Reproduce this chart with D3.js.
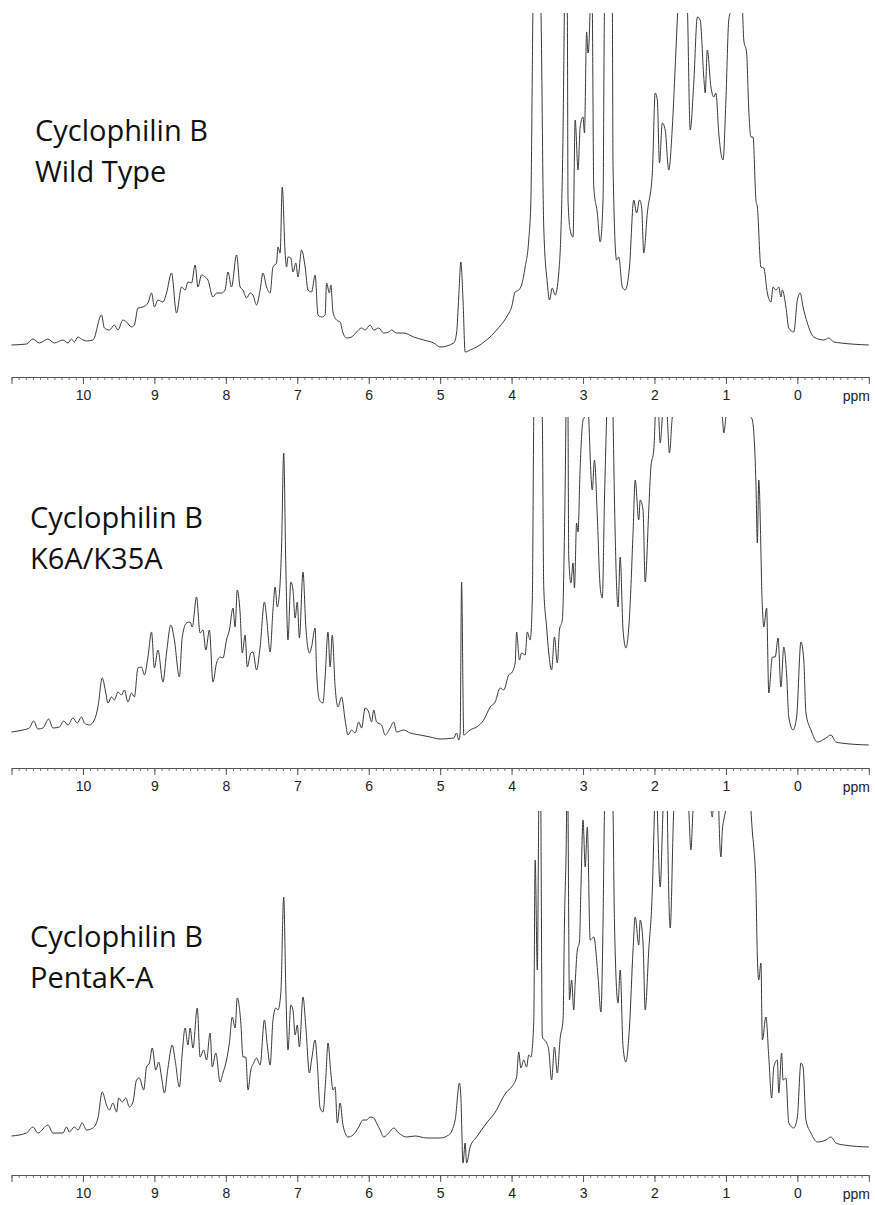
<!DOCTYPE html>
<html>
<head>
<meta charset="utf-8">
<script src="https://cdn.jsdelivr.net/npm/d3@7"></script>
<style>
  body { margin: 0; background: #fff; }
  .tick text { font-family: "Liberation Sans", Arial, sans-serif; }
</style>
</head>
<body>
<script>
// ---- data (ppm, intensity in a.u.) ----
var sampleNames = ['Wild Type', 'K6A/K35A', 'PentaK-A']
var proteinName = 'Cyclophilin B'
var majorTicks = [10, 9, 8, 7, 6, 5, 4, 3, 2, 1, 0]
var axisUnit = 'ppm'

var wildType = [
  [11.00,0],[10.79,1],[10.70,6],[10.61,2],[10.49,6],[10.40,2],[10.28,5],[10.21,2],[10.16,6],[10.12,3],
  [10.07,8],[10.02,6],[9.95,4],[9.86,5],[9.74,30],[9.70,17],[9.63,15],[9.56,20],[9.51,15],[9.44,25],
  [9.39,23],[9.32,18],[9.28,20],[9.23,37],[9.16,38],[9.09,42],[9.04,52],[9.00,38],[8.95,45],[8.88,43],
  [8.83,52],[8.76,72],[8.69,32],[8.62,58],[8.57,55],[8.53,63],[8.48,62],[8.43,80],[8.39,58],[8.34,70],
  [8.29,68],[8.25,65],[8.18,48],[8.13,52],[8.06,52],[8.01,55],[7.97,73],[7.92,58],[7.85,90],[7.80,58],
  [7.76,55],[7.71,47],[7.66,52],[7.62,50],[7.57,40],[7.52,55],[7.48,72],[7.43,58],[7.38,52],[7.34,78],
  [7.29,82],[7.27,98],[7.24,92],[7.21,158],[7.17,92],[7.15,78],[7.13,88],[7.09,87],[7.06,73],[7.02,82],
  [6.99,68],[6.94,95],[6.89,78],[6.85,55],[6.80,53],[6.75,70],[6.71,30],[6.66,28],[6.61,30],[6.59,62],
  [6.55,52],[6.53,60],[6.50,33],[6.45,25],[6.40,23],[6.36,12],[6.31,7],[6.24,8],[6.17,13],[6.10,17],
  [6.05,15],[5.98,20],[5.93,15],[5.86,17],[5.79,12],[5.72,13],[5.68,15],[5.61,12],[5.51,12],[5.37,8],
  [5.23,5],[5.09,2],[5.00,-2],[4.81,2],[4.77,12],[4.74,48],[4.71,83],[4.68,45],[4.65,-7],[4.58,-5],
  [4.49,-2],[4.35,5],[4.21,15],[4.07,28],[4.00,38],[3.95,53],[3.90,55],[3.86,60],[3.81,78],[3.76,105],
  [3.73,145],[3.70,340],[3.65,450],[3.59,340],[3.55,118],[3.50,62],[3.47,45],[3.43,57],[3.39,50],[3.34,72],
  [3.31,112],[3.28,212],[3.26,340],[3.24,420],[3.22,340],[3.21,145],[3.18,115],[3.14,108],[3.11,225],[3.07,175],
  [3.04,218],[3.00,228],[2.98,212],[2.95,313],[2.93,292],[2.90,340],[2.89,400],[2.87,340],[2.85,158],[2.80,132],
  [2.76,103],[2.72,145],[2.70,340],[2.65,450],[2.59,340],[2.58,178],[2.53,85],[2.50,88],[2.45,58],[2.41,55],
  [2.35,78],[2.29,145],[2.25,132],[2.21,145],[2.18,138],[2.15,92],[2.10,132],[2.03,172],[1.99,252],[1.96,245],
  [1.93,182],[1.89,222],[1.85,215],[1.80,175],[1.75,218],[1.71,278],[1.67,340],[1.60,400],[1.54,340],[1.50,215],
  [1.45,262],[1.40,328],[1.36,325],[1.31,268],[1.29,252],[1.26,295],[1.21,258],[1.17,248],[1.14,252],[1.10,212],
  [1.07,192],[1.04,185],[1.00,245],[0.96,325],[0.91,340],[0.84,400],[0.77,340],[0.75,305],[0.71,292],[0.68,235],
  [0.65,208],[0.62,208],[0.58,145],[0.56,138],[0.51,78],[0.47,77],[0.42,52],[0.37,43],[0.34,58],[0.30,55],
  [0.26,58],[0.23,48],[0.21,55],[0.16,38],[0.12,17],[0.05,13],[0.00,45],[-0.04,52],[-0.08,38],[-0.14,22],
  [-0.23,8],[-0.37,5],[-0.44,7],[-0.51,3],[-0.61,2],[-1.00,0]
]

var k6aK35a = [
  [11.00,0],[10.84,2],[10.75,4],[10.69,11],[10.63,3],[10.56,4],[10.48,13],[10.42,4],[10.33,5],[10.27,11],
  [10.21,7],[10.14,14],[10.08,9],[10.02,15],[9.98,9],[9.91,7],[9.84,12],[9.79,25],[9.73,54],[9.68,39],
  [9.65,29],[9.60,35],[9.56,32],[9.51,40],[9.46,37],[9.42,42],[9.37,30],[9.32,39],[9.28,35],[9.23,64],
  [9.18,65],[9.14,57],[9.09,75],[9.04,100],[9.00,64],[8.95,82],[8.88,50],[8.83,79],[8.77,107],[8.72,92],
  [8.65,55],[8.61,95],[8.55,109],[8.50,110],[8.47,105],[8.41,135],[8.36,99],[8.32,102],[8.28,82],[8.23,102],
  [8.18,50],[8.13,69],[8.08,75],[8.04,74],[7.99,92],[7.95,102],[7.90,124],[7.87,105],[7.84,142],[7.80,119],
  [7.77,79],[7.73,97],[7.70,65],[7.65,79],[7.62,80],[7.57,62],[7.52,85],[7.46,130],[7.43,115],[7.38,80],
  [7.34,122],[7.31,145],[7.28,125],[7.24,149],[7.22,185],[7.19,279],[7.16,165],[7.13,92],[7.09,150],[7.06,142],
  [7.03,114],[7.00,130],[6.97,94],[6.92,160],[6.88,105],[6.83,79],[6.80,85],[6.75,104],[6.73,62],[6.69,32],
  [6.64,29],[6.61,55],[6.57,100],[6.54,65],[6.51,97],[6.47,45],[6.43,25],[6.38,35],[6.33,12],[6.29,-3],
  [6.24,2],[6.19,-1],[6.14,10],[6.10,4],[6.05,24],[6.00,20],[5.96,10],[5.93,22],[5.89,10],[5.82,7],
  [5.77,-3],[5.70,4],[5.65,10],[5.61,0],[5.51,2],[5.42,-1],[5.28,-3],[5.14,-5],[5.00,-7],[4.81,-6],
  [4.77,-1],[4.74,-8],[4.72,-1],[4.70,150],[4.67,-3],[4.63,-1],[4.58,2],[4.49,5],[4.39,12],[4.30,25],
  [4.23,30],[4.16,44],[4.11,42],[4.04,57],[4.00,59],[3.95,69],[3.93,100],[3.89,72],[3.86,79],[3.81,77],
  [3.78,100],[3.74,92],[3.71,132],[3.69,315],[3.65,450],[3.57,315],[3.55,145],[3.51,105],[3.48,79],[3.44,62],
  [3.40,95],[3.36,69],[3.33,102],[3.29,112],[3.26,199],[3.24,315],[3.23,420],[3.21,315],[3.20,175],[3.17,149],
  [3.14,169],[3.12,144],[3.09,209],[3.07,200],[3.04,265],[3.00,312],[2.98,315],[2.95,380],[2.92,315],[2.87,242],
  [2.84,272],[2.80,215],[2.76,145],[2.73,134],[2.70,232],[2.67,315],[2.62,450],[2.58,315],[2.56,232],[2.51,125],
  [2.48,175],[2.44,102],[2.40,84],[2.35,115],[2.30,199],[2.27,252],[2.22,212],[2.20,232],[2.16,222],[2.13,150],
  [2.08,222],[2.05,265],[2.01,282],[1.99,315],[1.97,360],[1.94,315],[1.92,289],[1.89,315],[1.85,360],[1.82,315],
  [1.79,279],[1.75,315],[1.40,400],[1.05,315],[1.03,299],[1.00,315],[0.80,400],[0.65,315],[0.63,312],[0.58,249],
  [0.56,189],[0.54,252],[0.49,125],[0.47,105],[0.43,124],[0.40,39],[0.35,75],[0.31,75],[0.27,94],[0.23,45],
  [0.19,85],[0.15,57],[0.12,15],[0.06,2],[0.01,15],[-0.05,90],[-0.09,72],[-0.12,19],[-0.19,2],[-0.28,-10],
  [-0.40,-6],[-0.47,-3],[-0.54,-10],[-0.61,-11],[-1.00,-13]
]

var pentaKA = [
  [11.00,1],[10.79,4],[10.70,10],[10.63,4],[10.49,12],[10.42,4],[10.28,4],[10.23,10],[10.19,5],[10.12,10],
  [10.07,7],[10.01,14],[9.95,7],[9.86,9],[9.79,19],[9.73,45],[9.67,32],[9.63,27],[9.58,34],[9.53,25],
  [9.50,39],[9.45,35],[9.40,39],[9.35,30],[9.30,35],[9.25,57],[9.21,59],[9.15,47],[9.11,70],[9.07,74],
  [9.03,89],[8.98,67],[8.94,75],[8.90,60],[8.86,44],[8.81,69],[8.75,92],[8.71,77],[8.65,50],[8.61,84],
  [8.57,109],[8.53,92],[8.50,109],[8.46,89],[8.40,129],[8.36,80],[8.31,87],[8.27,77],[8.22,104],[8.19,70],
  [8.14,84],[8.08,55],[8.04,64],[7.99,77],[7.95,94],[7.91,120],[7.87,109],[7.84,139],[7.79,114],[7.76,80],
  [7.72,80],[7.69,47],[7.65,67],[7.61,74],[7.57,79],[7.52,72],[7.46,117],[7.42,92],[7.38,72],[7.34,117],
  [7.30,129],[7.27,127],[7.23,144],[7.19,240],[7.16,147],[7.13,87],[7.09,132],[7.06,127],[7.03,102],[7.00,112],
  [6.97,90],[6.92,140],[6.88,110],[6.83,64],[6.80,77],[6.75,97],[6.72,74],[6.68,29],[6.64,25],[6.60,60],
  [6.57,94],[6.53,64],[6.50,47],[6.47,50],[6.44,14],[6.40,34],[6.36,12],[6.29,0],[6.22,2],[6.14,10],
  [6.08,17],[6.03,17],[5.98,20],[5.93,19],[5.89,14],[5.84,7],[5.79,0],[5.72,4],[5.65,9],[5.58,4],
  [5.47,0],[5.35,1],[5.19,-1],[5.00,-1],[4.88,2],[4.79,17],[4.73,54],[4.71,40],[4.68,-26],[4.65,-6],
  [4.63,-26],[4.58,-10],[4.49,0],[4.35,14],[4.21,27],[4.14,37],[4.07,45],[4.00,50],[3.93,60],[3.90,85],
  [3.87,69],[3.83,77],[3.79,70],[3.76,82],[3.73,80],[3.69,114],[3.67,277],[3.64,167],[3.62,327],[3.60,450],
  [3.59,327],[3.57,100],[3.51,94],[3.48,87],[3.44,57],[3.40,90],[3.36,64],[3.32,99],[3.28,117],[3.26,214],
  [3.23,327],[3.22,420],[3.21,327],[3.19,137],[3.16,157],[3.13,127],[3.11,154],[3.08,187],[3.05,195],[3.03,247],
  [3.00,317],[2.97,270],[2.94,310],[2.90,197],[2.85,200],[2.79,160],[2.75,125],[2.72,214],[2.70,327],[2.64,450],
  [2.58,327],[2.56,214],[2.51,134],[2.48,167],[2.44,90],[2.40,75],[2.35,110],[2.30,187],[2.27,220],[2.22,192],
  [2.20,217],[2.16,194],[2.13,127],[2.08,187],[2.03,247],[2.00,327],[1.98,380],[1.96,327],[1.92,250],[1.88,327],
  [1.83,380],[1.82,327],[1.78,209],[1.73,327],[1.62,400],[1.52,327],[1.49,287],[1.46,327],[1.30,400],[1.21,327],
  [1.19,320],[1.18,327],[1.12,400],[1.10,327],[1.07,280],[1.05,307],[1.03,317],[1.00,327],[0.80,400],[0.65,327],
  [0.63,305],[0.61,290],[0.58,250],[0.56,180],[0.54,157],[0.51,174],[0.49,97],[0.44,120],[0.40,80],[0.36,39],
  [0.33,70],[0.28,77],[0.26,44],[0.22,84],[0.20,57],[0.16,59],[0.12,14],[0.05,9],[0.00,20],[-0.05,74],
  [-0.08,70],[-0.12,17],[-0.19,4],[-0.28,-5],[-0.40,-3],[-0.47,0],[-0.54,-6],[-0.65,-8],[-1.00,-10]
]

var spectra = [wildType, k6aK35a, pentaKA]

// ---- layout ----
var W = 875, H = 1205
var panels = [
  { top: 13, base: 345, axisY: 377, labelX: 35, labelY: 141 },
  { top: 417, base: 732, axisY: 768, labelX: 30, labelY: 528 },
  { top: 811, base: 1137, axisY: 1175, labelX: 30, labelY: 947 }
]

var svg = d3.select('body').append('svg')
  .attr('width', W)
  .attr('height', H)
  .style('display', 'block')

var x = d3.scaleLinear().domain([11, -1]).range([11.5, 868.8])
var minorTicks = d3.range(-10, 111).map((i) => i / 10)

panels.forEach((p, i) => {
  var y = d3.scaleLinear()
    .domain([0, p.base - p.top])
    .range([p.base, p.top])

  var g = svg.append('g').attr('class', 'panel')

  g.append('clipPath')
    .attr('id', 'clip' + i)
    .append('rect')
    .attr('x', 0)
    .attr('y', p.top)
    .attr('width', W)
    .attr('height', p.axisY - p.top - 4)

  var line = d3.line()
    .x((d) => x(d[0]))
    .y((d) => y(d[1]))
    .curve(d3.curveMonotoneX)

  g.append('path')
    .datum(spectra[i])
    .attr('clip-path', `url(#clip${i})`)
    .attr('fill', 'none')
    .attr('stroke', '#3a3a3a')
    .attr('stroke-width', 1)
    .attr('stroke-linejoin', 'round')
    .attr('d', line)

  // minor ticks every 0.1 ppm
  var minor = g.append('g')
    .attr('transform', `translate(0,${p.axisY})`)
    .call(d3.axisBottom(x).tickValues(minorTicks).tickSize(3).tickSizeOuter(0).tickFormat(''))
  minor.select('.domain').remove()
  minor.selectAll('line').attr('stroke', '#777')

  var major = g.append('g')
    .attr('transform', `translate(0,${p.axisY})`)
    .call(d3.axisBottom(x).tickValues(majorTicks).tickSize(7).tickSizeOuter(7).tickPadding(6))
  major.select('.domain').attr('stroke', '#555')
  major.selectAll('.tick line').attr('stroke', '#555')
  major.selectAll('.tick text')
    .attr('fill', '#222')
    .style('font-size', '14px')

  g.append('text')
    .attr('x', 870)
    .attr('y', p.axisY + 24)
    .attr('text-anchor', 'end')
    .attr('fill', '#222')
    .style('font-family', '"Liberation Sans", Arial, sans-serif')
    .style('font-size', '14px')
    .text(axisUnit)

  var label = g.append('text')
    .attr('x', p.labelX)
    .attr('y', p.labelY)
    .attr('fill', '#111')
    .style('font-family', '"Open Sans", sans-serif')
    .style('font-size', '29px')
  label.append('tspan').attr('x', p.labelX).text(proteinName)
  label.append('tspan').attr('x', p.labelX).attr('dy', 41).text(sampleNames[i])
})
</script>
</body>
</html>
